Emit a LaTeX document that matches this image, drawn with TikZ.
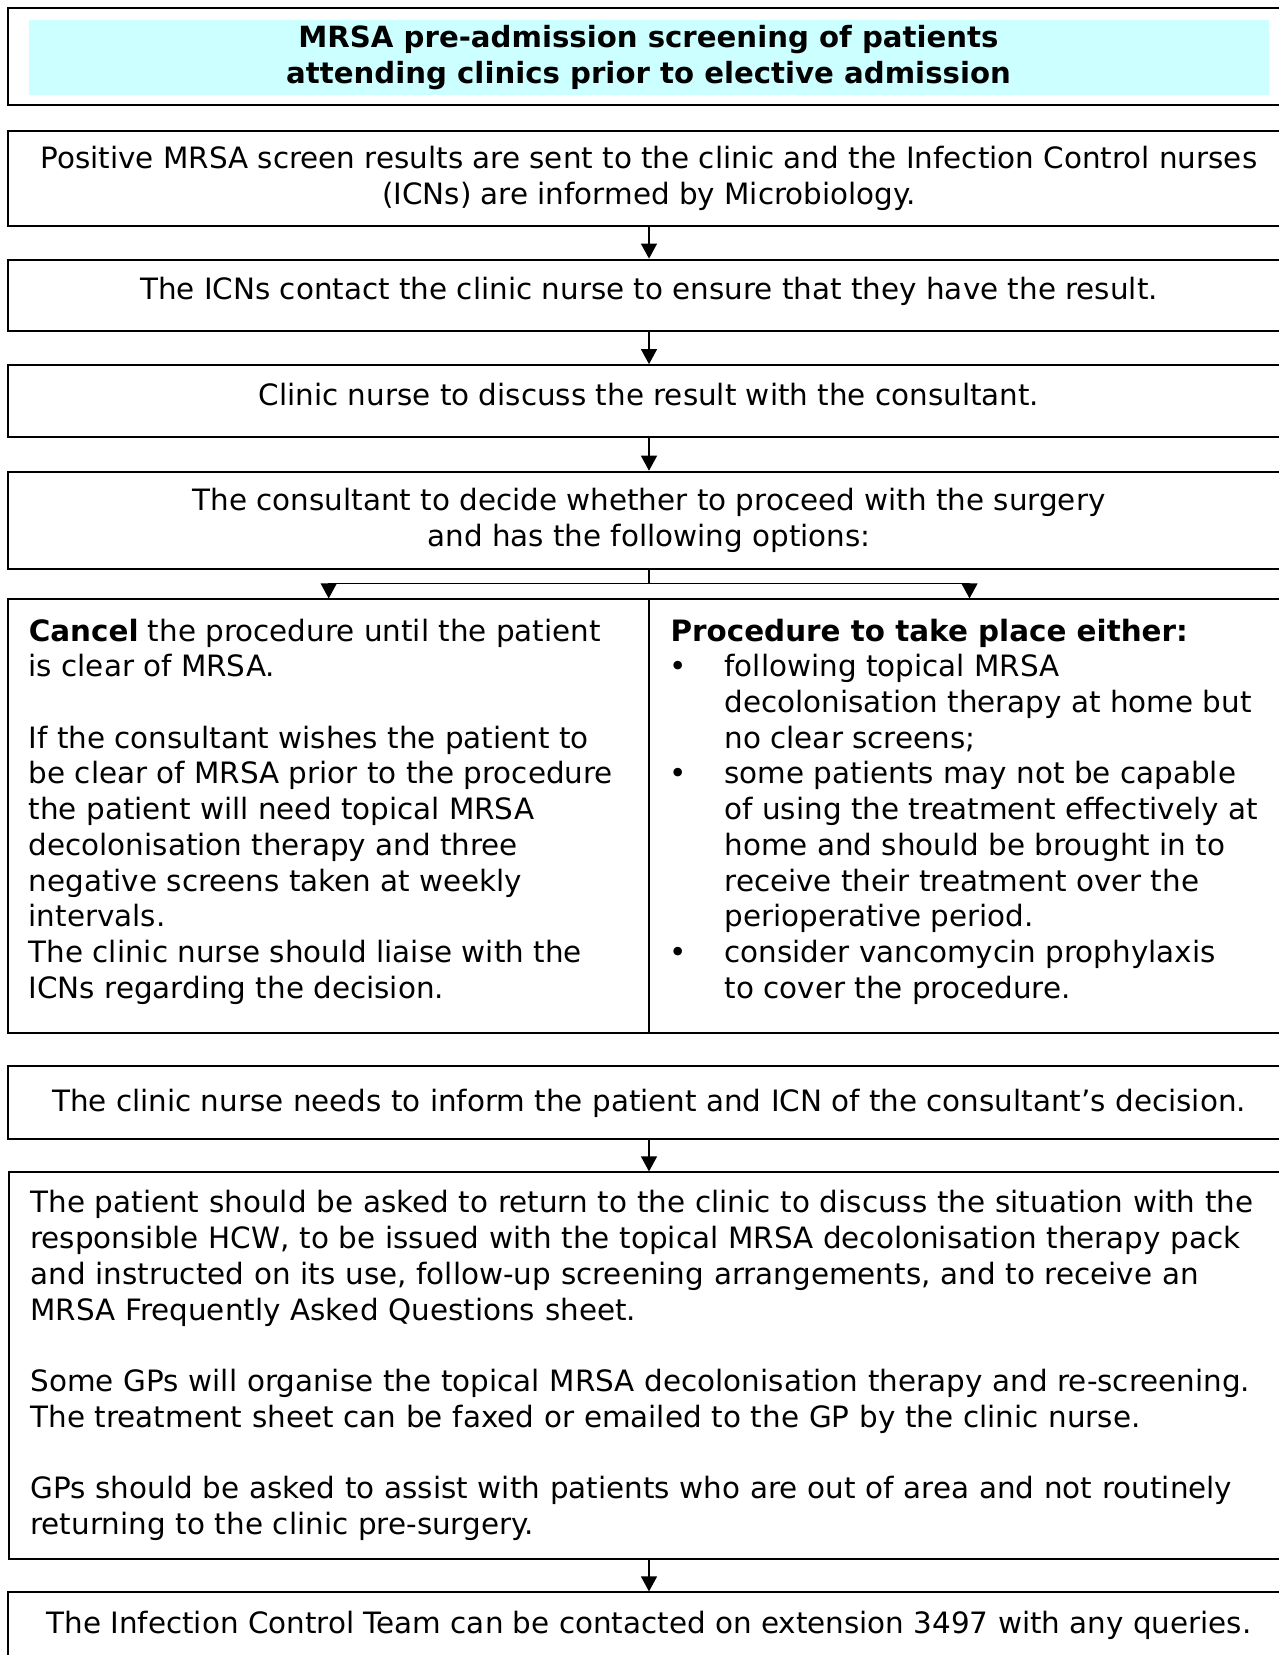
\documentclass[tikz,border=0pt]{standalone}
\usepackage{fontspec}
\setmainfont{DejaVu Sans}
\usepackage{xcolor}
\usetikzlibrary{arrows.meta, positioning}
\definecolor{titlecyan}{HTML}{CCFFFF}
\tikzset{
    block/.style={rectangle, draw, line width=1pt, minimum width=640.8pt, align=center, inner sep=0pt},
    cell/.style={rectangle, draw, line width=1pt, minimum width=320.3pt, minimum height=216.85pt, inner sep=0pt},
    celltext/.style={align=left, inner sep=0pt, anchor=north west},
    arrow/.style={line width=0.6pt, -{Triangle[length=7.5pt, width=8pt]}},
    link/.style={line width=0.6pt}
}
\newcommand{\itembul}{\hspace*{-0.6pt}\makebox[27.6pt][l]{\textbullet}}
\newcommand{\itemind}{\hspace*{27pt}}

\begin{document}
\begin{tikzpicture}[x=0.5pt, y=-0.5pt, font=\fontsize{14.7pt}{17.85pt}\selectfont]
    \useasboundingbox (0,0) rectangle (1279,1655);
    \clip (0,0) rectangle (1279,1655);
    % Place nodes
    \node [block, minimum height=48.05pt] (title) at (649,56.45) {};
    \node [fill=titlecyan, minimum width=620pt, minimum height=37.5pt, inner sep=0pt, align=center, font=\fontsize{14.6pt}{17.85pt}\bfseries] (heading) at (648.5,57.5) {MRSA pre-admission screening of patients\\attending clinics prior to elective admission};
    \node [block, minimum height=47.5pt] (result) at (649,178.5) {Positive MRSA screen results are sent to the clinic and the Infection Control nurses\\(ICNs) are informed by Microbiology.};
    \node [block, minimum height=35.9pt, text depth=7pt] (contact) at (649,295.5) {The ICNs contact the clinic nurse to ensure that they have the result.};
    \node [block, minimum height=35.9pt, text depth=7pt] (discuss) at (649,401) {Clinic nurse to discuss the result with the consultant.};
    \node [block, minimum height=48.5pt] (decide) at (649,520.2) {The consultant to decide whether to proceed with the surgery\\and has the following options:};
    \coordinate (split) at (649,583.6);
    \node [cell] (cancel) at (328.7,816.25) {};
    \node [cell] (proceed) at (969.5,816.25) {};
    \node [celltext] (canceltext) at ([xshift=10.5pt, yshift=-10pt]cancel.north west) {\textbf{Cancel} the procedure until the patient\\
        is clear of MRSA.\\[17.85pt]
        If the consultant wishes the patient to\\
        be clear of MRSA prior to the procedure\\
        the patient will need topical MRSA\\
        decolonisation therapy and three\\
        negative screens taken at weekly\\
        intervals.\\
        The clinic nurse should liaise with the\\
        ICNs regarding the decision.};
    \node [celltext] (proceedtext) at ([xshift=11pt, yshift=-10pt]proceed.north west) {\textbf{Procedure to take place either:}\\
        \itembul following topical MRSA\\
        \itemind decolonisation therapy at home but\\
        \itemind no clear screens;\\
        \itembul some patients may not be capable\\
        \itemind of using the treatment effectively at\\
        \itemind home and should be brought in to\\
        \itemind receive their treatment over the\\
        \itemind perioperative period.\\
        \itembul consider vancomycin prophylaxis\\
        \itemind to cover the procedure.};
    \node [block, minimum height=36.4pt, text depth=2pt] (inform) at (649,1102.3) {The clinic nurse needs to inform the patient and ICN of the consultant’s decision.};
    \node [block, anchor=west, align=left, text width=640pt, inner xsep=10.5pt, minimum height=193.1pt] (return) at (8.4,1365.5) {The patient should be asked to return to the clinic to discuss the situation with the\\
        responsible HCW, to be issued with the topical MRSA decolonisation therapy pack\\
        and instructed on its use, follow-up screening arrangements, and to receive an\\
        MRSA Frequently Asked Questions sheet.\\[17.85pt]
        Some GPs will organise the topical MRSA decolonisation therapy and re-screening.\\
        The treatment sheet can be faxed or emailed to the GP by the clinic nurse.\\[17.85pt]
        GPs should be asked to assist with patients who are out of area and not routinely\\
        returning to the clinic pre-surgery.};
    \node [block, anchor=north, minimum height=33pt] (team) at (649,1591.4) {The Infection Control Team can be contacted on extension 3497 with any queries.};

    % Draw edges
    \draw [arrow] (result) -- (contact);
    \draw [arrow] (contact) -- (discuss);
    \draw [arrow] (discuss) -- (decide);
    \draw [link] (decide) -- (split);
    \draw [arrow] (split) -| (cancel.north);
    \draw [arrow] (split) -| (proceed.north);
    \draw [arrow] (inform) -- (inform.south |- return.north);
    \draw [arrow] (team.north |- return.south) -- (team);
\end{tikzpicture}
\end{document}
